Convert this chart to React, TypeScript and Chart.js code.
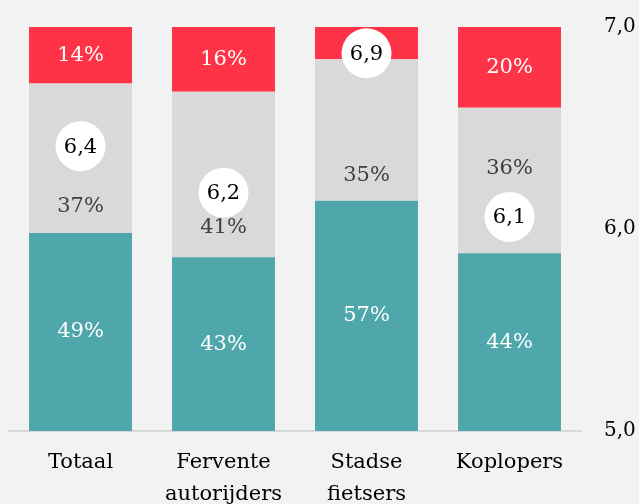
import React, { useEffect, useRef } from 'react';
import { Chart, registerables } from 'chart.js';

Chart.register(...registerables);

const categories = [['Totaal'], ['Fervente', 'autorijders'], ['Stadse', 'fietsers'], ['Koplopers']];
const lowShare = [49, 43, 57, 44];
const midShare = [37, 41, 35, 36];
const highShare = [14, 16, 8, 20];
const scores = [6.41, 6.18, 6.87, 6.06];
const scoreMin = 5;
const scoreMax = 7;

const FONT = '"DejaVu Serif", "Liberation Serif", serif';

const fmt = (v: number) => v.toFixed(1).replace('.', ',');

const labelPlugin = {
  id: 'segLabels',
  afterDatasetsDraw(chart: any) {
    const ctx = chart.ctx;
    const lineMeta = chart.getDatasetMeta(3);
    ctx.save();
    ctx.font = `21px ${FONT}`;
    ctx.textAlign = 'center';
    ctx.textBaseline = 'middle';
    [0, 1, 2].forEach((di) => {
      const meta = chart.getDatasetMeta(di);
      const ds = chart.data.datasets[di];
      meta.data.forEach((bar: any, i: number) => {
        const v = ds.data[i];
        const { x, y, base } = bar.getProps(['x', 'y', 'base'], true);
        const top = Math.min(y, base);
        const bottom = Math.max(y, base);
        const h = bottom - top;
        if (h < 45) return;
        const pt = lineMeta.data[i];
        let ly = (top + bottom) / 2;
        if (di === 1) {
          ly = top + 0.82 * h;
          if (Math.abs(ly - pt.y) < 30) ly = pt.y - 48;
        }
        ctx.fillStyle = di === 1 ? '#404040' : '#ffffff';
        ctx.fillText(v + '%', x, ly);
      });
    });
    ctx.fillStyle = '#000000';
    lineMeta.data.forEach((pt: any, i: number) => {
      ctx.fillText(fmt(scores[i]), pt.x, pt.y + 1);
    });
    ctx.restore();
  },
};

export default function App() {
  const ref = useRef<HTMLCanvasElement | null>(null);
  useEffect(() => {
    document.body.style.margin = '0';
    const chart = new Chart(ref.current as HTMLCanvasElement, {
      type: 'bar',
      data: {
        labels: categories as any,
        datasets: [
          { label: 'laag', data: lowShare, backgroundColor: '#50a7ab', order: 1, stack: 's' },
          { label: 'midden', data: midShare, backgroundColor: '#d9d9d9', order: 1, stack: 's' },
          { label: 'hoog', data: highShare, backgroundColor: '#ff3347', order: 1, stack: 's' },
          {
            type: 'line',
            label: 'score',
            data: scores,
            yAxisID: 'y2',
            showLine: false,
            pointRadius: 25,
            pointHoverRadius: 25,
            pointBackgroundColor: '#ffffff',
            pointBorderWidth: 0,
            borderWidth: 0,
            order: 0,
            clip: false,
          } as any,
        ],
      },
      options: {
        animation: false,
        responsive: false,
        layout: { autoPadding: false, padding: { top: 27, left: 9, right: 0, bottom: 0 } },
        datasets: { bar: { categoryPercentage: 1, barPercentage: 0.72 } },
        plugins: { legend: { display: false }, tooltip: { enabled: false } },
        scales: {
          x: {
            stacked: true,
            grid: { display: false, drawTicks: false },
            border: { display: true, color: '#d9d9d9', width: 2 },
            ticks: {
              color: '#000000',
              font: { family: FONT, size: 21, lineHeight: 1.5 },
              padding: 16,
              maxRotation: 0,
              autoSkip: false,
            },
            afterFit(s: any) {
              s.height = 73;
              s.paddingLeft = 0;
              s.paddingRight = 0;
            },
          },
          y: { stacked: true, display: false, min: 0, max: 100 },
          y2: {
            position: 'right',
            min: scoreMin,
            max: scoreMax,
            grid: { display: false, drawTicks: false },
            border: { display: false },
            ticks: {
              stepSize: 1,
              padding: 23,
              color: '#000000',
              font: { family: FONT, size: 20 },
              callback: (v: any) => fmt(Number(v)),
            },
            afterFit(s: any) {
              s.width = 58;
              s.paddingTop = 0;
              s.paddingBottom = 0;
            },
          },
        },
      } as any,
      plugins: [labelPlugin],
    });
    return () => chart.destroy();
  }, []);
  return (
    <div style={{ position: 'fixed', left: 0, top: 0, width: 639, height: 504, background: '#f2f2f2' }}>
      <canvas ref={ref} width={639} height={504} style={{ width: 639, height: 504, display: 'block' }} />
    </div>
  );
}
